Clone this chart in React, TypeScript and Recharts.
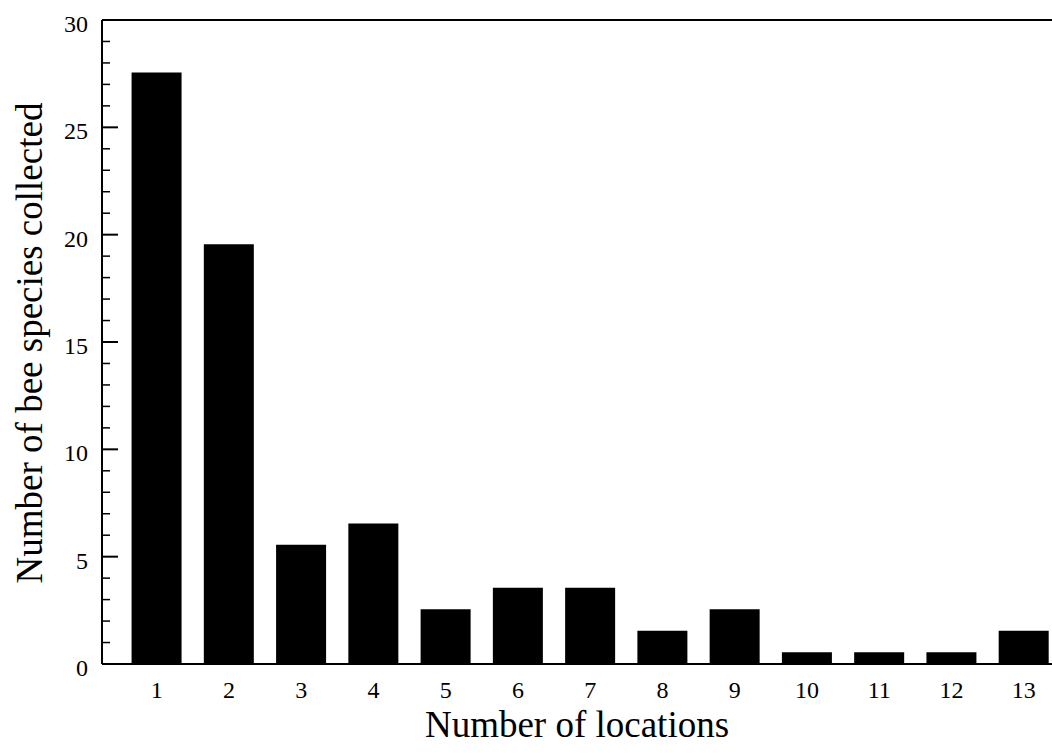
import React from 'react'
import { BarChart, Bar, XAxis, YAxis, ReferenceLine } from 'recharts'

const locations = [1, 2, 3, 4, 5, 6, 7, 8, 9, 10, 11, 12, 13]
const speciesCounts = [27.55, 19.55, 5.55, 6.55, 2.55, 3.55, 3.55, 1.55, 2.55, 0.55, 0.55, 0.55, 1.55]
const majorTicks = [0, 5, 10, 15, 20, 25, 30]
const allYTicks = Array.from({ length: 31 }, (_, i) => i)

const FONT = '"Liberation Serif", "Times New Roman", serif'

const data = locations.map((loc, i) => ({ loc, count: speciesCounts[i] }))

const YTick = (props: any) => {
  const { x, y, payload } = props
  const major = majorTicks.includes(payload.value)
  return (
    <g>
      <line
        x1={x}
        x2={x + (major ? 16 : 8)}
        y1={y}
        y2={y}
        stroke="#000"
        strokeWidth={major ? 2 : 1.5}
      />
      {major && (
        <text x={x - 14} y={y + 12} textAnchor="end" fontSize={24} fontFamily={FONT} fill="#000">
          {payload.value}
        </text>
      )}
    </g>
  )
}

const App: React.FC = () => {
  return (
    <div style={{ position: 'absolute', left: 0, top: 0, width: 1052, height: 753, overflow: 'hidden', background: '#fff' }}>
      <BarChart width={1052} height={753} data={data} margin={{ top: 20, right: 0, bottom: 0, left: 0 }}>
        <XAxis
          dataKey="loc"
          type="number"
          domain={[0.243, 13.39]}
          allowDataOverflow
          ticks={locations}
          interval={0}
          height={89}
          axisLine={{ stroke: '#000', strokeWidth: 2 }}
          tickLine={false}
          tickSize={0}
          tickMargin={17}
          tick={{ fontSize: 24, fill: '#000', fontFamily: FONT }}
          label={(p: any) => {
            const vb = p.viewBox
            return (
              <text x={vb.x + vb.width / 2} y={737} textAnchor="middle" fontSize={37} fontFamily={FONT} fill="#000">
                Number of locations
              </text>
            )
          }}
        />
        <YAxis
          type="number"
          domain={[0, 30]}
          ticks={allYTicks}
          interval={0}
          width={102}
          axisLine={{ stroke: '#000', strokeWidth: 2 }}
          tickLine={false}
          tickSize={0}
          tickMargin={0}
          tick={<YTick />}
          label={() => (
            <text
              x={42}
              y={343}
              transform="rotate(-90, 42, 343)"
              textAnchor="middle"
              fontSize={37}
              fontFamily={FONT}
              fill="#000"
            >
              Number of bee species collected
            </text>
          )}
        />
        <ReferenceLine y={30} stroke="#000" strokeWidth={2} />
        <Bar dataKey="count" fill="#000" barSize={50} isAnimationActive={false} />
      </BarChart>
    </div>
  )
}

export default App
